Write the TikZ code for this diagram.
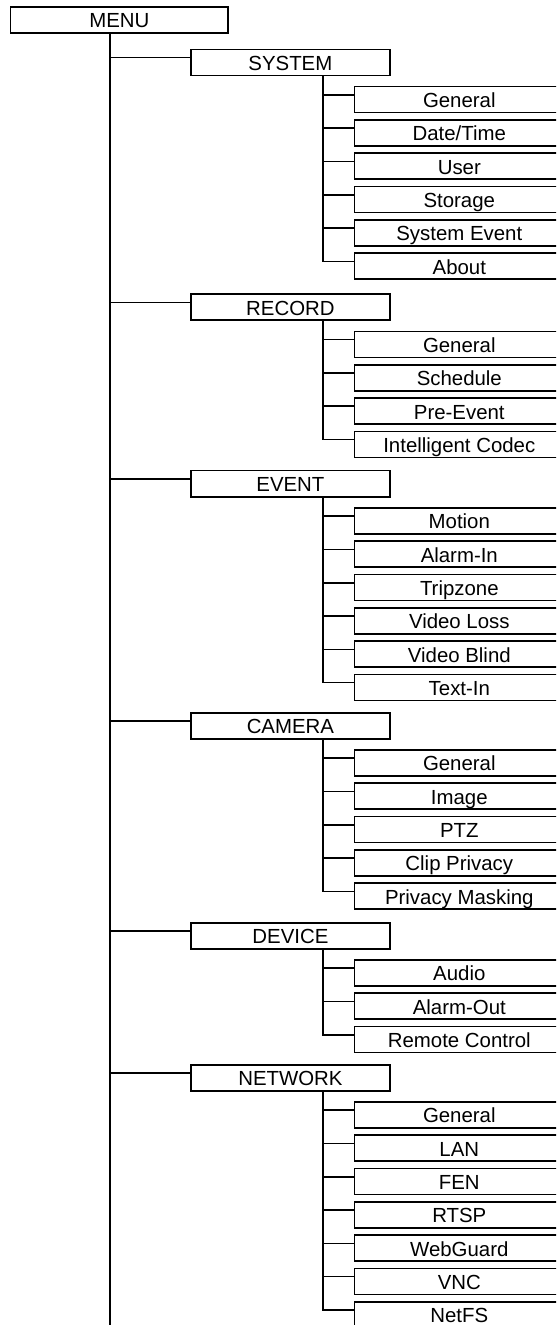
\documentclass[tikz,border=0pt]{standalone}
\usepackage{fontspec}
\setmainfont{Liberation Sans}
\usepackage{tikz}
\usetikzlibrary{positioning,calc}
\tikzset{menubox/.style={draw, fill=white, line width=0.8pt, outer sep=0pt, minimum width=108.75pt, minimum height=13pt, inner sep=0pt, text height=10.5pt, text depth=2.5pt, font=\fontsize{10.2}{12}\selectfont}}
\tikzset{groupbox/.style={menubox, minimum width=99.7pt}}
\tikzset{itembox/.style={menubox, minimum width=105pt}}
\tikzset{link/.style={line width=0.8pt}}

\begin{document}
\begin{tikzpicture}[x=0.5pt, y=-0.5pt, node distance=3.65pt]
  \useasboundingbox (0,0) rectangle (556,1325);
  \clip (0,0) rectangle (556,1325);

  % Menu principal
  \node[menubox] (menu) at (119.3,20) {MENU};
  \coordinate (menutrunk) at ([xshift=49.75pt]menu.south west);
  \coordinate (menuend) at (110,1335);

  % SYSTEM
  \node[groupbox] (system) at (290.4,62.5) {SYSTEM};
  \node[itembox, below=5.6pt of system, xshift=84.45pt] (sysgeneral) {General};
  \node[itembox, below=of sysgeneral] (datetime) {Date/Time};
  \node[itembox, below=of datetime] (user) {User};
  \node[itembox, below=of user] (storage) {Storage};
  \node[itembox, below=of storage] (sysevent) {System Event};
  \node[itembox, below=of sysevent] (about) {About};

  % RECORD
  \node[groupbox] (record) at (290.4,307.3) {RECORD};
  \node[itembox, below=5.6pt of record, xshift=84.45pt] (recgeneral) {General};
  \node[itembox, below=of recgeneral] (schedule) {Schedule};
  \node[itembox, below=of schedule] (preevent) {Pre-Event};
  \node[itembox, below=of preevent] (codec) {Intelligent Codec};

  % EVENT
  \node[groupbox] (event) at (290.4,483.7) {EVENT};
  \node[itembox, below=5.6pt of event, xshift=84.45pt] (motion) {Motion};
  \node[itembox, below=of motion] (alarmin) {Alarm-In};
  \node[itembox, below=of alarmin] (tripzone) {Tripzone};
  \node[itembox, below=of tripzone] (videoloss) {Video Loss};
  \node[itembox, below=of videoloss] (videoblind) {Video Blind};
  \node[itembox, below=of videoblind] (textin) {Text-In};

  % CAMERA
  \node[groupbox] (camera) at (290.4,725.7) {CAMERA};
  \node[itembox, below=5.6pt of camera, xshift=84.45pt] (camgeneral) {General};
  \node[itembox, below=of camgeneral] (image) {Image};
  \node[itembox, below=of image] (ptz) {PTZ};
  \node[itembox, below=of ptz] (clipprivacy) {Clip Privacy};
  \node[itembox, below=of clipprivacy] (masking) {Privacy Masking};

  % DEVICE
  \node[groupbox] (device) at (290.4,935.7) {DEVICE};
  \node[itembox, below=5.6pt of device, xshift=84.45pt] (audio) {Audio};
  \node[itembox, below=of audio] (alarmout) {Alarm-Out};
  \node[itembox, below=of alarmout] (remote) {Remote Control};

  % NETWORK
  \node[groupbox] (network) at (290.4,1077.7) {NETWORK};
  \node[itembox, below=5.6pt of network, xshift=84.45pt] (netgeneral) {General};
  \node[itembox, below=of netgeneral] (lan) {LAN};
  \node[itembox, below=of lan] (fen) {FEN};
  \node[itembox, below=of fen] (rtsp) {RTSP};
  \node[itembox, below=of rtsp] (webguard) {WebGuard};
  \node[itembox, below=of webguard] (vnc) {VNC};
  \node[itembox, below=of vnc] (netfs) {NetFS};

  % Tronco principal
  \draw[link] (menutrunk) -- (menuend);
  \draw[link] (menutrunk) |- ([yshift=2.4pt]system.west);
  \draw[link] (menutrunk) |- ([yshift=2.4pt]record.west);
  \draw[link] (menutrunk) |- ([yshift=2.4pt]event.west);
  \draw[link] (menutrunk) |- ([yshift=2.4pt]camera.west);
  \draw[link] (menutrunk) |- ([yshift=2.4pt]device.west);
  \draw[link] (menutrunk) |- ([yshift=2.4pt]network.west);

  % Ramas de cada grupo
  \coordinate (systrunk) at ([xshift=66pt]system.south west);
  \draw[link] (systrunk) |- ([yshift=2.4pt]sysgeneral.west);
  \draw[link] (systrunk) |- ([yshift=2.4pt]datetime.west);
  \draw[link] (systrunk) |- ([yshift=2.4pt]user.west);
  \draw[link] (systrunk) |- ([yshift=2.4pt]storage.west);
  \draw[link] (systrunk) |- ([yshift=2.4pt]sysevent.west);
  \draw[link] (systrunk) |- ([yshift=2.4pt]about.west);

  \coordinate (rectrunk) at ([xshift=66pt]record.south west);
  \draw[link] (rectrunk) |- ([yshift=2.4pt]recgeneral.west);
  \draw[link] (rectrunk) |- ([yshift=2.4pt]schedule.west);
  \draw[link] (rectrunk) |- ([yshift=2.4pt]preevent.west);
  \draw[link] (rectrunk) |- ([yshift=2.4pt]codec.west);

  \coordinate (evtrunk) at ([xshift=66pt]event.south west);
  \draw[link] (evtrunk) |- ([yshift=2.4pt]motion.west);
  \draw[link] (evtrunk) |- ([yshift=2.4pt]alarmin.west);
  \draw[link] (evtrunk) |- ([yshift=2.4pt]tripzone.west);
  \draw[link] (evtrunk) |- ([yshift=2.4pt]videoloss.west);
  \draw[link] (evtrunk) |- ([yshift=2.4pt]videoblind.west);
  \draw[link] (evtrunk) |- ([yshift=2.4pt]textin.west);

  \coordinate (camtrunk) at ([xshift=66pt]camera.south west);
  \draw[link] (camtrunk) |- ([yshift=2.4pt]camgeneral.west);
  \draw[link] (camtrunk) |- ([yshift=2.4pt]image.west);
  \draw[link] (camtrunk) |- ([yshift=2.4pt]ptz.west);
  \draw[link] (camtrunk) |- ([yshift=2.4pt]clipprivacy.west);
  \draw[link] (camtrunk) |- ([yshift=2.4pt]masking.west);

  \coordinate (devtrunk) at ([xshift=66pt]device.south west);
  \draw[link] (devtrunk) |- ([yshift=2.4pt]audio.west);
  \draw[link] (devtrunk) |- ([yshift=2.4pt]alarmout.west);
  \draw[link] (devtrunk) |- ([yshift=2.4pt]remote.west);

  \coordinate (nettrunk) at ([xshift=66pt]network.south west);
  \draw[link] (nettrunk) |- ([yshift=2.4pt]netgeneral.west);
  \draw[link] (nettrunk) |- ([yshift=2.4pt]lan.west);
  \draw[link] (nettrunk) |- ([yshift=2.4pt]fen.west);
  \draw[link] (nettrunk) |- ([yshift=2.4pt]rtsp.west);
  \draw[link] (nettrunk) |- ([yshift=2.4pt]webguard.west);
  \draw[link] (nettrunk) |- ([yshift=2.4pt]vnc.west);
  \draw[link] (nettrunk) |- ([yshift=2.4pt]netfs.west);
\end{tikzpicture}
\end{document}
